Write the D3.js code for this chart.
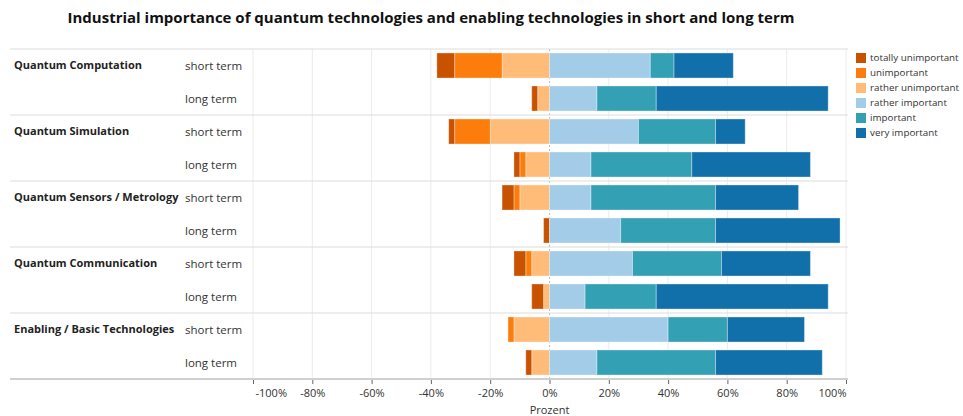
<!DOCTYPE html>
<html><head><meta charset="utf-8">
<script src="https://cdn.jsdelivr.net/npm/d3@7"></script>
<style>body{margin:0;background:#fff}svg{display:block;font-family:"Open Sans",sans-serif}</style>
</head><body><svg id="c" width="963" height="416"></svg>
<script>
const categories = ["Quantum Computation", "Quantum Simulation", "Quantum Sensors / Metrology", "Quantum Communication", "Enabling / Basic Technologies"];
const terms = ["short term", "long term"];
const levels = ["totally unimportant", "unimportant", "rather unimportant", "rather important", "important", "very important"];
const colors = ["#c85200", "#fc7d0b", "#ffbc79", "#a3cce9", "#34a0b4", "#1170aa"];
// order per row: QC short, QC long, QS short, QS long, ...
const totallyUnimportant = [6, 2, 2, 2, 4, 2, 4, 4, 0, 2];
const unimportant        = [16, 0, 12, 2, 2, 0, 2, 0, 2, 0];
const ratherUnimportant  = [16, 4, 20, 8, 10, 0, 6, 2, 12, 6];
const ratherImportant    = [34, 16, 30, 14, 14, 24, 28, 12, 40, 16];
const important          = [8, 20, 26, 34, 42, 32, 30, 24, 20, 40];
const veryImportant      = [20, 58, 10, 40, 28, 42, 30, 58, 26, 36];
const tickValues = [-100, -80, -60, -40, -20, 0, 20, 40, 60, 80, 100];
const title = "Industrial importance of quantum technologies and enabling technologies in short and long term";
const axisTitle = "Prozent";

const series = [totallyUnimportant, unimportant, ratherUnimportant, ratherImportant, important, veryImportant];
const rows = [];
categories.forEach((c, ci) => terms.forEach((t, ti) => {
  const i = ci * 2 + ti;
  rows.push({key: c + "|" + t, cat: c, term: t, ti, vals: series.map(s => s[i])});
}));

const svg = d3.select("#c");
const plotTop = 49, plotBottom = 379;
const x = d3.scaleLinear().domain([-100, 100]).range([253, 846]);
const y = d3.scaleBand().domain(rows.map(r => r.key)).range([plotTop, plotBottom]).paddingInner(0.24).paddingOuter(0.12);

// title
svg.append("text").attr("x", 431).attr("y", 23).attr("text-anchor", "middle")
  .attr("font-size", 15).attr("font-weight", "bold").attr("fill", "#111").text(title);

// vertical gridlines
svg.append("g").selectAll("line").data(tickValues).join("line")
  .attr("x1", d => x(d)).attr("x2", d => x(d)).attr("y1", plotTop).attr("y2", plotBottom)
  .attr("stroke", d => d === 0 ? "#bbb" : "#ececec").attr("stroke-width", 1)
  .attr("stroke-dasharray", d => d === 0 ? "2,2" : null);

// horizontal separators
const seps = [plotTop].concat(categories.slice(1).map((c, i) => y(c + "|short term") - y.step() * y.paddingInner() / 2));
svg.append("g").selectAll("line").data(seps).join("line")
  .attr("x1", 10).attr("x2", 848).attr("y1", d => d).attr("y2", d => d)
  .attr("stroke", "#dcdcdc").attr("stroke-width", 1);

// bars
const segs = [];
rows.forEach(r => {
  let neg = 0;
  [2, 1, 0].forEach(k => { const v = r.vals[k]; segs.push({r, k, x0: -(neg + v), x1: -neg}); neg += v; });
  let pos = 0;
  [3, 4, 5].forEach(k => { const v = r.vals[k]; segs.push({r, k, x0: pos, x1: pos + v}); pos += v; });
});
svg.append("g").selectAll("rect").data(segs.filter(s => s.x1 > s.x0)).join("rect")
  .attr("x", s => x(s.x0)).attr("width", s => x(s.x1) - x(s.x0))
  .attr("y", s => y(s.r.key)).attr("height", y.bandwidth())
  .attr("fill", s => colors[s.k]).attr("stroke", "rgba(255,255,255,0.35)").attr("stroke-width", 1);

// bottom axis line
svg.append("line").attr("x1", 10).attr("x2", 848).attr("y1", plotBottom).attr("y2", plotBottom)
  .attr("stroke", "#d0d0d0").attr("stroke-width", 2);

// x axis
const axis = d3.axisBottom(x).tickValues(tickValues).tickFormat(d => d + "%").tickSize(4).tickSizeOuter(0);
const ax = svg.append("g").attr("transform", `translate(0,${plotBottom + 1})`).call(axis);
ax.select(".domain").remove();
ax.selectAll(".tick line").attr("stroke", "#666");
ax.selectAll(".tick text").attr("font-size", 11).attr("fill", "#333").attr("font-family", "Open Sans, sans-serif").attr("dy", "0.9em");
ax.selectAll(".tick text").filter(d => d === -100).attr("text-anchor", "start").attr("dx", 2);
ax.selectAll(".tick text").filter(d => d === 100).attr("text-anchor", "end").attr("dx", 0);

svg.append("text").attr("x", x(0)).attr("y", 414).attr("text-anchor", "middle")
  .attr("font-size", 11).attr("fill", "#333").text(axisTitle);

// row labels
svg.append("g").selectAll("text").data(rows).join("text")
  .attr("x", 185).attr("y", r => y(r.key) + y.bandwidth() / 2).attr("dy", "0.35em")
  .attr("font-size", 11.5).attr("fill", "#333").text(r => r.term);
svg.append("g").selectAll("text").data(rows.filter(r => r.ti === 0)).join("text")
  .attr("x", 14).attr("y", r => y(r.key) + y.bandwidth() / 2).attr("dy", "0.35em")
  .attr("font-size", 11).attr("font-weight", "bold").attr("fill", "#222").text(r => r.cat);

// legend
const lg = svg.append("g").selectAll("g").data(levels).join("g")
  .attr("transform", (d, i) => `translate(856,${58 + i * 15})`);
lg.append("rect").attr("x", 0).attr("y", -5).attr("width", 10).attr("height", 10).attr("fill", (d, i) => colors[i]);
lg.append("text").attr("x", 14).attr("y", 0).attr("dy", "0.35em").attr("font-size", 9.8).attr("fill", "#333").text(d => d);
</script></body></html>
